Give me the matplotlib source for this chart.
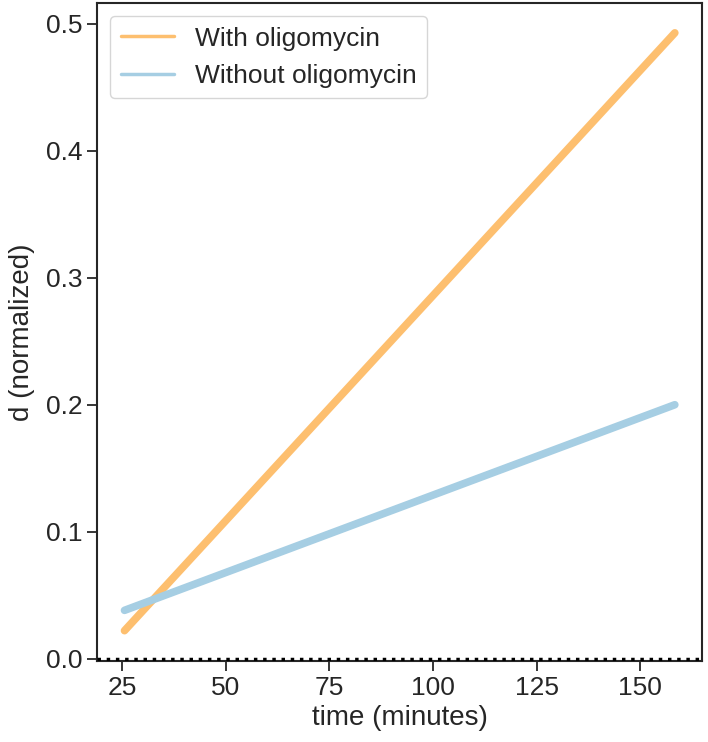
import matplotlib
matplotlib.use("Agg")
import matplotlib.pyplot as plt
import seaborn as sns

# time points (minutes) and normalized d for both conditions
time_min = [25.5, 158.4]
d_with = [0.022, 0.493]
d_without = [0.038, 0.200]
labels = ["With oligomycin", "Without oligomycin"]

sns.set_style("ticks")
plt.rcParams['font.family'] = ['Liberation Sans', 'DejaVu Sans']

fig, ax = plt.subplots(figsize=(7.08, 7.42), dpi=100)
fig.subplots_adjust(left=0.137, right=0.992, top=0.996, bottom=0.109)

ax.plot(time_min, d_with, color="#fdbf6f", lw=5.5, solid_capstyle="round", label=labels[0])
ax.plot(time_min, d_without, color="#a6cee3", lw=5.5, solid_capstyle="round", label=labels[1])
ax.axhline(0, color="black", ls=":", lw=2.5, zorder=3)
ax.set_ylim(bottom=-0.002)

ax.set_xticks([25, 50, 75, 100, 125, 150])
ax.set_yticks([0.0, 0.1, 0.2, 0.3, 0.4, 0.5])
ax.tick_params(labelsize=19, length=7, width=1.3)
for s in ax.spines.values():
    s.set_linewidth(1.5)
ax.set_xlabel("time (minutes)", fontsize=20)
ax.set_ylabel("d (normalized)", fontsize=20, labelpad=8)

leg = ax.legend(loc="upper left", fontsize=19, frameon=True)
for ln in leg.get_lines():
    ln.set_linewidth(2.5)

fig.savefig("out.png", dpi=100)
